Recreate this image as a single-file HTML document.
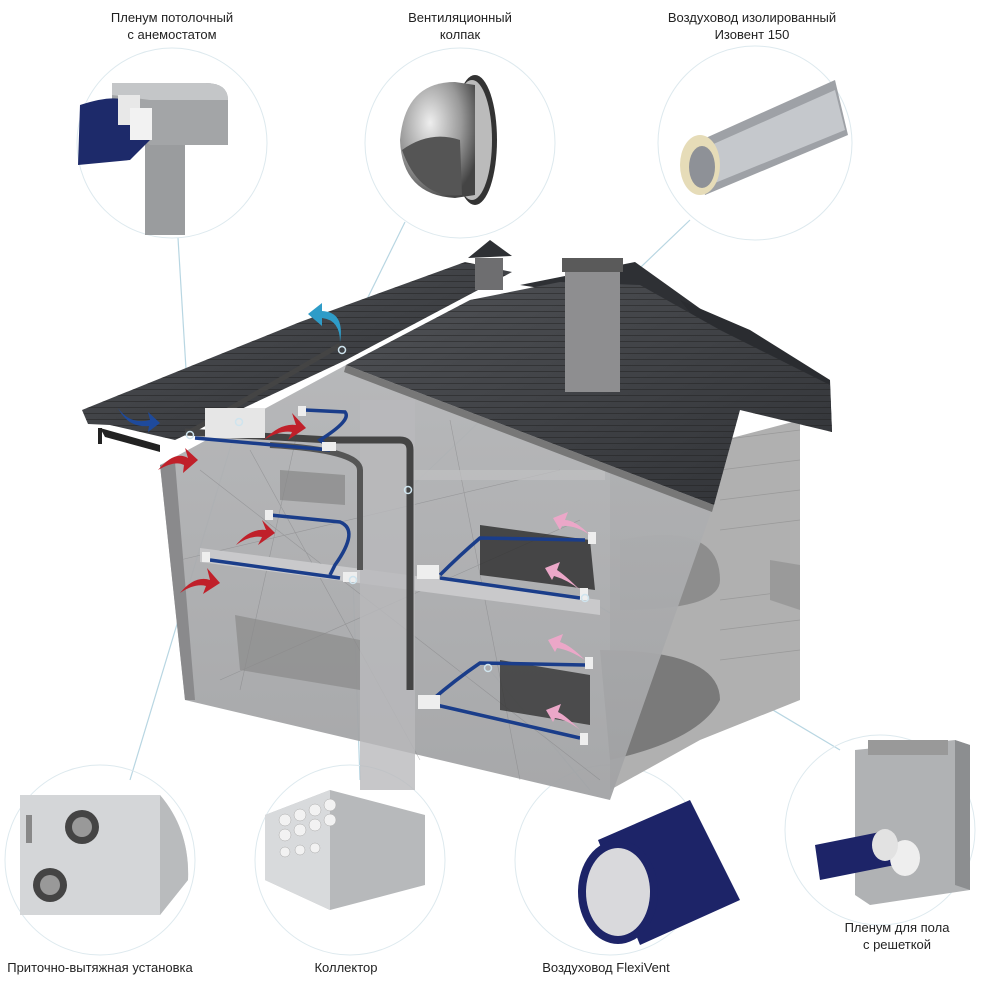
<!DOCTYPE html>
<html><head><meta charset="utf-8"><style>
html,body{margin:0;padding:0;background:#fff;width:1000px;height:1000px;overflow:hidden}
svg{display:block}
text{font-family:"Liberation Sans",sans-serif;font-size:13px;fill:#222}
</style></head><body>
<svg width="1000" height="1000" viewBox="0 0 1000 1000" xmlns="http://www.w3.org/2000/svg">
<defs>
<linearGradient id="wall" x1="0" y1="0" x2="0" y2="1"><stop offset="0" stop-color="#b3b4b6"/><stop offset="1" stop-color="#a2a3a5"/></linearGradient>
<linearGradient id="roof" x1="0" y1="0" x2="1" y2="1"><stop offset="0" stop-color="#505256"/><stop offset="1" stop-color="#303236"/></linearGradient>
<radialGradient id="dome" cx=".4" cy=".35" r=".7"><stop offset="0" stop-color="#eee"/><stop offset=".6" stop-color="#999"/><stop offset="1" stop-color="#444"/></radialGradient>
<pattern id="tiles" width="8" height="6" patternUnits="userSpaceOnUse"><rect width="8" height="6" fill="none"/><path d="M0 5.5 H8" stroke="#222" stroke-width="1" opacity=".5"/></pattern>
</defs>

<g stroke="#b8d6e2" stroke-width="1.2" fill="none">
<line x1="178" y1="238" x2="190" y2="435"/>
<line x1="405" y1="222" x2="342" y2="350"/>
<line x1="690" y1="220" x2="408" y2="490"/>
<line x1="238" y1="422" x2="130" y2="780"/>
<line x1="353" y1="580" x2="360" y2="780"/>
<line x1="488" y1="668" x2="590" y2="790"/>
<line x1="585" y1="598" x2="840" y2="750"/>
</g>

<g fill="none" stroke="#dde9ee" stroke-width="1">
<circle cx="172" cy="143" r="95"/>
<circle cx="460" cy="143" r="95"/>
<circle cx="755" cy="143" r="97"/>
<circle cx="100" cy="860" r="95"/>
<circle cx="350" cy="860" r="95"/>
<circle cx="610" cy="860" r="95"/>
<circle cx="880" cy="830" r="95"/>
</g>

<rect x="145" y="95" width="40" height="140" fill="#9a9c9e"/>
<path d="M112 83 L205 83 Q228 83 228 100 L228 145 L150 145 L112 120Z" fill="#a3a5a7"/>
<path d="M112 83 L205 83 Q228 83 228 100 L150 100 L112 95Z" fill="#c4c6c8"/>
<path d="M80 105 Q110 95 125 100 L150 140 L130 160 L78 165Z" fill="#1d2a6a"/>
<rect x="118" y="95" width="22" height="30" fill="#e8e8e8"/>
<rect x="130" y="108" width="22" height="32" fill="#f2f2f2"/>

<ellipse cx="475" cy="140" rx="22" ry="65" fill="#333"/>
<ellipse cx="472" cy="140" rx="20" ry="60" fill="#bbb"/>
<path d="M400 140 Q405 82 455 82 L475 85 L475 195 L455 198 Q402 195 400 140Z" fill="url(#dome)"/>
<path d="M402 150 Q430 130 460 140 L462 195 Q420 200 402 150Z" fill="#555"/>

<path d="M690 145 L835 80 L848 135 L705 195Z" fill="#9ea1a6"/>
<path d="M700 150 L835 90 L845 130 L710 185Z" fill="#c5c8cc"/>
<ellipse cx="700" cy="165" rx="20" ry="30" fill="#e6dcb8"/>
<ellipse cx="702" cy="167" rx="13" ry="21" fill="#8e9197"/>

<path d="M20 795 L160 795 Q190 830 188 880 L160 915 L20 915Z" fill="#d4d6d8"/>
<path d="M160 795 Q190 830 188 880 L160 915Z" fill="#b9bbbd"/>
<circle cx="82" cy="827" r="17" fill="#444"/><circle cx="82" cy="827" r="10" fill="#999"/>
<circle cx="50" cy="885" r="17" fill="#444"/><circle cx="50" cy="885" r="10" fill="#999"/>
<rect x="26" y="815" width="6" height="28" fill="#888"/>

<path d="M265 815 L330 790 L425 815 L425 885 L330 910 L265 880Z" fill="#b7b9bb"/>
<path d="M265 815 L330 790 L330 910 L265 880Z" fill="#d8dadc"/>
<g fill="#f2f2f2" stroke="#aaa" stroke-width=".5">
<circle cx="285" cy="820" r="6"/><circle cx="300" cy="815" r="6"/><circle cx="315" cy="810" r="6"/><circle cx="330" cy="805" r="6"/>
<circle cx="285" cy="835" r="6"/><circle cx="300" cy="830" r="6"/><circle cx="315" cy="825" r="6"/><circle cx="330" cy="820" r="6"/>
<circle cx="285" cy="852" r="5"/><circle cx="300" cy="850" r="5"/><circle cx="315" cy="848" r="5"/>
</g>

<path d="M598 840 L690 800 L740 900 L640 945Z" fill="#1d2468"/>
<ellipse cx="618" cy="892" rx="40" ry="52" fill="#1d2468"/>
<ellipse cx="618" cy="892" rx="32" ry="44" fill="#d9d9dc"/>

<path d="M855 750 L955 740 L970 745 L970 890 L870 905 L855 895Z" fill="#b0b2b4"/>
<path d="M955 740 L970 745 L970 890 L955 885Z" fill="#8c8e90"/>
<rect x="868" y="740" width="80" height="15" fill="#999"/>
<path d="M815 845 L890 830 L895 865 L820 880Z" fill="#1d2468"/>
<ellipse cx="905" cy="858" rx="15" ry="18" fill="#eee"/>
<ellipse cx="885" cy="845" rx="13" ry="16" fill="#e2e2e2"/>

<!-- HOUSE -->
<path d="M610 470 L800 420 L800 700 L700 740 L610 790Z" fill="#b0b0b0"/>
<g stroke="#8a8a8a" stroke-width=".7" opacity=".6">
<line x1="720" y1="440" x2="800" y2="430"/><line x1="720" y1="470" x2="800" y2="460"/><line x1="720" y1="500" x2="800" y2="490"/>
<line x1="720" y1="530" x2="800" y2="520"/><line x1="720" y1="600" x2="800" y2="590"/><line x1="720" y1="630" x2="800" y2="620"/>
<line x1="720" y1="660" x2="800" y2="650"/>
</g>
<path d="M620 540 Q720 520 720 580 Q720 610 620 610Z" fill="#8d8d8d"/>
<path d="M600 650 Q720 650 720 700 Q700 740 610 760Z" fill="#7a7a7a"/>
<path d="M770 560 L800 565 L800 610 L770 600Z" fill="#9a9a9a"/>
<path d="M520 285 L635 262 L730 330 L720 340 L620 300Z" fill="#2e3034"/>
<path d="M680 300 L750 330 L830 380 L832 432 L760 400Z" fill="#2a2c30"/>
<path d="M160 465 L346 365 L714 504 L610 800 L185 700Z" fill="url(#wall)" opacity=".95"/>
<g stroke="#7e7e80" stroke-width=".6" opacity=".5" fill="none">
<path d="M200 470 L600 780 M250 450 L420 760 M180 560 L560 470 M220 680 L580 520 M300 420 L240 690 M450 420 L520 780"/>
</g>
<path d="M160 465 L185 700 L195 700 L175 462Z" fill="#8a8a8c"/>
<path d="M200 548 L600 600 L600 615 L200 562Z" fill="#c9c9cb"/>
<rect x="360" y="400" width="55" height="390" fill="#b9b9bb" opacity=".8"/>
<rect x="410" y="470" width="195" height="10" fill="#c0c0c2" opacity=".7"/>
<path d="M480 525 L590 540 L595 590 L480 575Z" fill="#2a2a2a" opacity=".8"/>
<path d="M500 660 L590 675 L590 725 L500 710Z" fill="#333" opacity=".8"/>
<path d="M235 615 L360 640 L360 690 L240 670Z" fill="#8a8a8a" opacity=".7"/>
<path d="M280 470 L345 475 L345 505 L280 500Z" fill="#888" opacity=".7"/>
<path d="M82 410 L300 322 L465 262 L512 272 L346 360 L175 440 L110 425 L88 424Z" fill="url(#roof)"/>
<path d="M82 410 L300 322 L465 262 L512 272 L346 360 L175 440 L110 425 L88 424Z" fill="url(#tiles)"/>
<path d="M346 365 L470 300 L560 282 L640 285 L720 330 L830 385 L832 432 L740 410 L714 505Z" fill="url(#roof)"/>
<path d="M346 365 L470 300 L560 282 L640 285 L720 330 L830 385 L832 432 L740 410 L714 505Z" fill="url(#tiles)"/>
<path d="M346 365 L714 505 L712 512 L344 372Z" fill="#777"/>
<rect x="565" y="262" width="55" height="130" fill="#8e8e90"/>
<rect x="562" y="258" width="61" height="14" fill="#5a5a5a"/>
<rect x="475" y="258" width="28" height="32" fill="#6e6e70"/>
<path d="M468 258 L490 240 L512 256Z" fill="#2e3034"/>
<path d="M100 428 L160 445 L160 452 L105 437Z" fill="#222"/>
<rect x="98" y="428" width="4" height="16" fill="#222"/>
<path d="M185 432 L330 440 L400 440 Q410 440 410 450 L410 690" fill="none" stroke="#444" stroke-width="7"/>
<path d="M270 445 Q360 450 360 470 L360 570" fill="none" stroke="#555" stroke-width="6"/>
<path d="M340 345 L190 432" stroke="#444" stroke-width="5"/>
<rect x="205" y="408" width="60" height="30" fill="#e6e6e6"/>
<g fill="none" stroke="#1a3d8a" stroke-width="3.5">
<path d="M195 438 L330 450"/>
<path d="M305 410 L345 412 Q352 420 320 440 L330 448"/>
<path d="M270 515 L340 522 Q360 530 335 565 L330 575"/>
<path d="M210 560 L340 578"/>
<path d="M440 575 Q460 555 480 538 L585 540"/>
<path d="M440 578 L580 598"/>
<path d="M432 700 Q455 680 480 663 L585 665"/>
<path d="M432 704 L580 738"/>
</g>
<g fill="#eee">
<rect x="322" y="442" width="14" height="9"/><rect x="343" y="572" width="14" height="10"/>
<rect x="417" y="565" width="22" height="14"/><rect x="418" y="695" width="22" height="14"/>
<rect x="588" y="532" width="8" height="12"/><rect x="580" y="588" width="8" height="12"/>
<rect x="585" y="657" width="8" height="12"/><rect x="580" y="733" width="8" height="12"/>
<rect x="202" y="552" width="8" height="10"/><rect x="265" y="510" width="8" height="10"/><rect x="298" y="406" width="8" height="10"/>
</g>
<g fill="#c0202a">
<path d="M158 470 Q175 450 188 458 L185 448 L198 460 L183 473 L184 465 Q175 460 158 470Z"/>
<path d="M180 593 Q195 575 210 580 L207 568 L220 583 L203 594 L206 586 Q195 583 180 593Z"/>
<path d="M236 545 Q250 528 266 530 L262 520 L275 533 L258 545 L262 537 Q250 535 236 545Z"/>
<path d="M264 440 Q280 423 296 425 L292 413 L306 428 L288 440 L292 432 Q280 430 264 440Z"/>
</g>
<path d="M118 408 Q130 425 150 420 L148 412 L160 423 L148 432 L149 426 Q128 428 118 408Z" fill="#1e4a9c"/>
<path d="M340 342 Q340 320 322 318 L322 326 L308 314 L322 303 L322 311 Q345 312 340 342Z" fill="#2e9cc8"/>
<g fill="#eba7c8">
<path d="M590 535 Q575 520 565 520 L568 512 L553 518 L560 530 L562 526 Q575 525 590 535Z"/>
<path d="M580 590 Q565 575 557 570 L560 562 L545 568 L552 580 L554 576 Q568 580 580 590Z"/>
<path d="M585 660 Q570 645 560 642 L563 634 L548 640 L555 652 L557 648 Q570 650 585 660Z"/>
<path d="M580 730 Q565 715 558 712 L561 704 L546 710 L553 722 L555 718 Q568 720 580 730Z"/>
</g>
<g fill="none" stroke="#cfe4ee" stroke-width="1.5">
<circle cx="342" cy="350" r="3.5"/><circle cx="190" cy="435" r="3.5"/><circle cx="239" cy="422" r="3.5"/>
<circle cx="408" cy="490" r="3.5"/><circle cx="353" cy="580" r="3.5"/><circle cx="585" cy="598" r="3.5"/><circle cx="488" cy="668" r="3.5"/>
</g>

<g text-anchor="middle">
<text x="172" y="22">Пленум потолочный</text>
<text x="172" y="39">с анемостатом</text>
<text x="460" y="22">Вентиляционный</text>
<text x="460" y="39">колпак</text>
<text x="752" y="22">Воздуховод изолированный</text>
<text x="752" y="39">Изовент 150</text>
<text x="100" y="972">Приточно-вытяжная установка</text>
<text x="346" y="972">Коллектор</text>
<text x="606" y="972">Воздуховод FlexiVent</text>
<text x="897" y="932">Пленум для пола</text>
<text x="897" y="949">с решеткой</text>
</g>
</svg>
</body></html>
